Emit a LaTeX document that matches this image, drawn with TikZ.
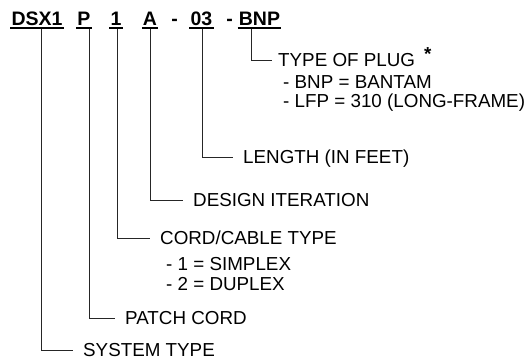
\documentclass[tikz,border=0pt]{standalone}
\usepackage{fontspec}
\setmainfont{Liberation Sans}
\usetikzlibrary{positioning}

\begin{document}
\begin{tikzpicture}[x=1pt, y=-1pt,
		code/.style={font=\fontsize{19.5}{23}\selectfont\bfseries, inner sep=0pt, anchor=base},
		lbl/.style={font=\fontsize{18.8}{22}\selectfont, inner xsep=10pt, inner ysep=0pt, text height=13pt, text depth=0pt, anchor=west},
		sub/.style={font=\fontsize{18.8}{22}\selectfont, inner sep=0pt, anchor=base west},
		leader/.style={draw=black!85, line width=0.8pt}]
		\useasboundingbox (0,0) rectangle (525,364);
		% part number
		\node[code] (dsx) at (37,25) {DSX1};
		\node[code] (pc) at (84,25) {P};
		\node[code] (cab) at (116,25) {1};
		\node[code] (iter) at (150,25) {A};
		\node[code] (dashA) at (174.5,25) {-};
		\node[code] (len) at (201.5,25) {03};
		\node[code] (dashB) at (229.5,25) {-};
		\node[code] (plug) at (259.5,25) {BNP};
		\foreach \n in {dsx, pc, cab, iter, len, plug} {
			\draw[line width=1.4pt] ([xshift=-1pt, yshift=-2.8pt]\n.base west) -- ([xshift=1pt, yshift=-2.8pt]\n.base east);
		}
		% meanings
		\node[lbl, inner xsep=6pt] (plugTxt) at (272,60) {TYPE OF PLUG\hspace{9pt}\raisebox{6pt}{\bfseries *}};
		\node[sub] (bantam) at (283,88) {- BNP = BANTAM};
		\node[sub] (longframe) at (283,107) {- LFP = 310 (LONG-FRAME)};
		\node[lbl] (lenTxt) at (233,157) {LENGTH (IN FEET)};
		\node[lbl] (iterTxt) at (183,200) {DESIGN ITERATION};
		\node[lbl] (cabTxt) at (150,238) {CORD/CABLE TYPE};
		\node[sub] (simplex) at (166,270) {- 1 = SIMPLEX};
		\node[sub] (duplex) at (166,290) {- 2 = DUPLEX};
		\node[lbl] (pcTxt) at (115,318) {PATCH CORD};
		\node[lbl] (sysTxt) at (73,350) {SYSTEM TYPE};
		% leaders
		\draw[leader] ([xshift=4pt, yshift=-4pt]dsx.south) |- (sysTxt.west);
		\draw[leader] ([xshift=5pt, yshift=-4pt]pc.south) |- (pcTxt.west);
		\draw[leader] ([xshift=1pt, yshift=-4pt]cab.south) |- (cabTxt.west);
		\draw[leader] ([yshift=-4pt]iter.south) |- (iterTxt.west);
		\draw[leader] ([xshift=0.5pt, yshift=-4pt]len.south) |- (lenTxt.west);
		\draw[leader] ([xshift=-7.8pt, yshift=-4pt]plug.south) |- (plugTxt.west);
	\end{tikzpicture}
\end{document}
